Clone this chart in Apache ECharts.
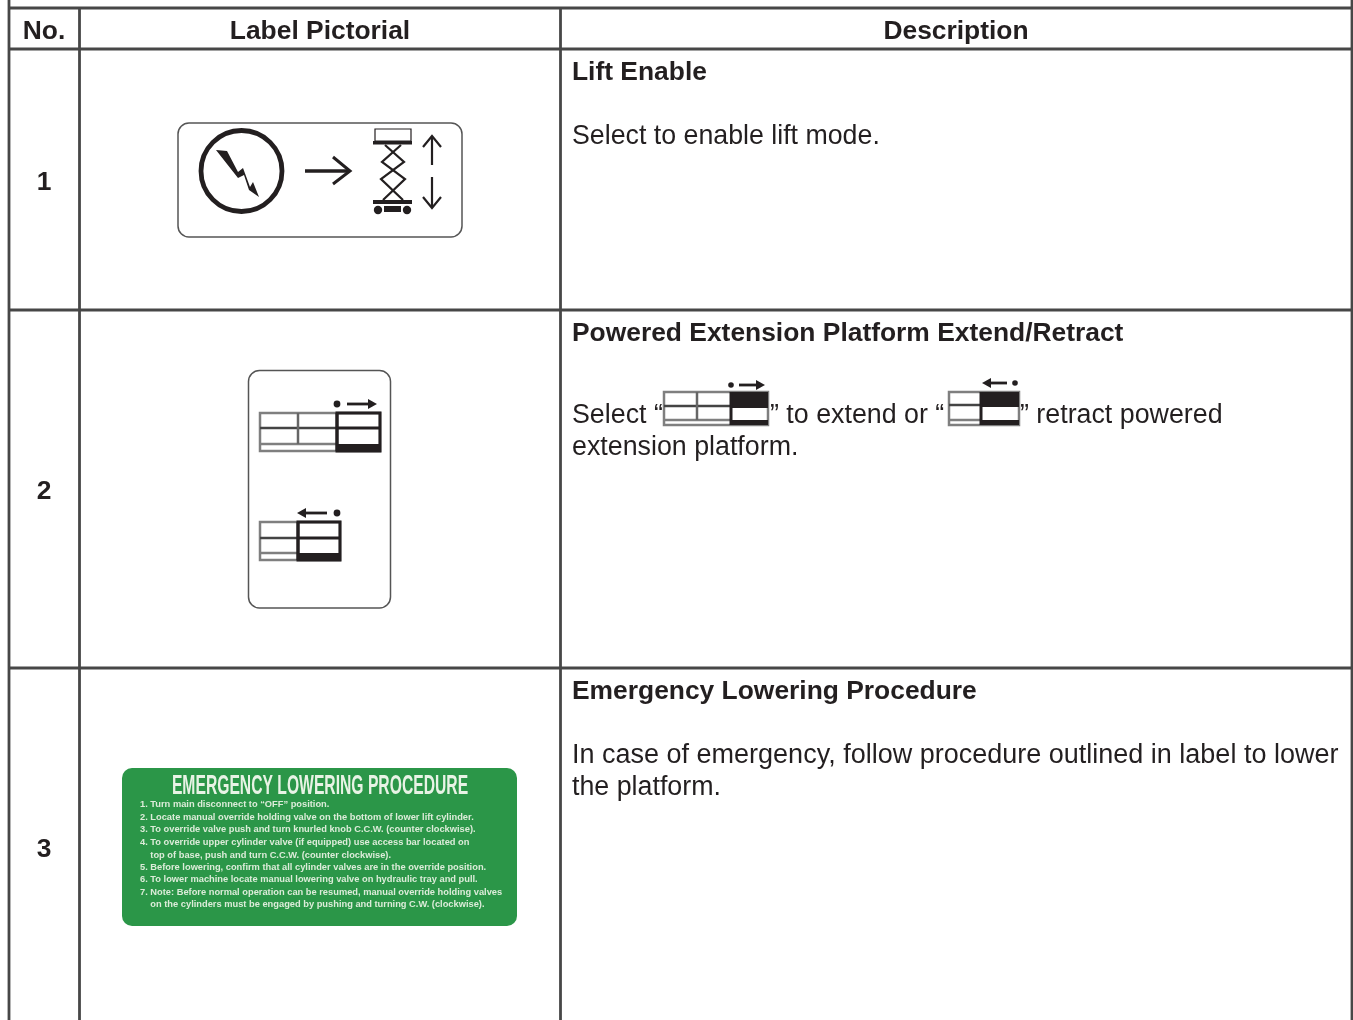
<!DOCTYPE html>
<html>
<head>
<meta charset="utf-8">
<style>
  html, body { margin: 0; padding: 0; background: #fff; }
  #chart { width: 1353px; height: 1020px; }
</style>
<script src="https://cdn.jsdelivr.net/npm/echarts@6/dist/echarts.min.js"></script>
</head>
<body>
<div id="chart"></div>
<script>
// table content
const tableHeaders = ['No.', 'Label Pictorial', 'Description'];
const itemNumbers = ['1', '2', '3'];
const itemTitles = ['Lift Enable', 'Powered Extension Platform Extend/Retract', 'Emergency Lowering Procedure'];
const liftText = ['Select to enable lift mode.'];
const extendText = ['Select “', '” to extend or “', '” retract powered', 'extension platform.'];
const loweringText = ['In case of emergency, follow procedure outlined in label to lower', 'the platform.'];
const greenTitle = 'EMERGENCY LOWERING PROCEDURE';
const greenSteps = [
  '1. Turn main disconnect to “OFF” position.',
  '2. Locate manual override holding valve on the bottom of lower lift cylinder.',
  '3. To override valve push and turn knurled knob C.C.W. (counter clockwise).',
  '4. To override upper cylinder valve (if equipped) use access bar located on',
  '    top of base, push and turn C.C.W. (counter clockwise).',
  '5. Before lowering, confirm that all cylinder valves are in the override position.',
  '6. To lower machine locate manual lowering valve on hydraulic tray and pull.',
  '7. Note: Before normal operation can be resumed, manual override holding valves',
  '    on the cylinders must be engaged by pushing and turning C.W. (clockwise).'
];

const INK = '#231f20';
const RULE = '#474747';
const GREEN = '#2b9648';
const FAMILY = '"Liberation Sans", Arial, sans-serif';

const els = [];

function line(x1, y1, x2, y2, w, color) {
  els.push({ type: 'line', silent: true, shape: { x1, y1, x2, y2 },
    style: { stroke: color || INK, lineWidth: w } });
}
function poly(points, w, color) {
  els.push({ type: 'polyline', silent: true, shape: { points },
    style: { stroke: color || INK, lineWidth: w, fill: null, lineJoin: 'miter' } });
}
function fillPoly(points, color) {
  els.push({ type: 'polygon', silent: true, shape: { points }, style: { fill: color || INK } });
}
function box(x, y, width, height, style, r) {
  els.push({ type: 'rect', silent: true, shape: { x, y, width, height, r: r || 0 }, style });
}
function dot(cx, cy, r, style) {
  els.push({ type: 'circle', silent: true, shape: { cx, cy, r }, style: style || { fill: INK } });
}
function label(x, y, text, size, bold, align, color, scaleX) {
  const el = { type: 'text', silent: true,
    style: { x: 0, y: 0, text, fill: color || INK, align: align || 'left', verticalAlign: 'middle',
      font: (bold ? 'bold ' : '') + size + 'px ' + FAMILY } };
  el.x = x;
  el.y = y;
  if (scaleX) el.scaleX = scaleX;
  els.push(el);
}

// grid
const ruleYs = [8, 49, 310, 668];
const ruleXs = [9, 79.5, 560.5, 1352];
ruleYs.forEach(y => line(8, y, 1353, y, 2.8, RULE));
ruleXs.forEach((x, i) => line(x, (i === 0 || i === 3) ? 0 : 8, x, 1020, 2.8, RULE));

// header row and number column
const BOLD = 26.4;
const headerCenters = [44, 320, 956];
tableHeaders.forEach((t, i) => label(headerCenters[i], 32, t, BOLD, true, 'center'));
const numberYs = [183, 492, 850];
itemNumbers.forEach((t, i) => label(44, numberYs[i], t, BOLD, true, 'center'));

// description column
label(572, 72.5, itemTitles[0], BOLD, true);
label(572, 136.5, liftText[0], 26.75);
label(572, 334, itemTitles[1], BOLD, true);
label(572, 415.5, extendText[0], 26.8);
label(770, 415.5, extendText[1], 26.8);
label(1020, 415.5, extendText[2], 26.8);
label(572, 447.5, extendText[3], 26.8);
label(572, 692, itemTitles[2], BOLD, true);
label(572, 755.5, loweringText[0], 27);
label(572, 787.5, loweringText[1], 26.8);

// label 1: lift enable
box(178, 123, 284, 114, { fill: '#fff', stroke: '#555', lineWidth: 1.5 }, 11);
dot(241.5, 171, 40.5, { fill: '#fff', stroke: INK, lineWidth: 4.8 });
fillPoly([[216, 150], [227, 151], [238, 172], [243, 168], [250, 187], [253, 182], [259, 197],
  [249, 190], [244, 175], [238, 178]]);
line(305, 171, 349, 171, 3.5);
poly([[333, 157], [350, 171], [333, 184]], 3);
box(375, 129, 36, 12, { fill: '#fff', stroke: INK, lineWidth: 1.2 });
box(373, 141, 39, 3.5, { fill: INK });
poly([[385, 145], [404, 162], [381, 179], [403, 200]], 2.2);
poly([[401, 145], [382, 162], [405, 179], [383, 200]], 2.2);
box(373, 200, 39, 4, { fill: INK });
dot(378, 210, 4.2);
dot(407, 210, 4.2);
box(384, 206, 17, 6, { fill: INK });
line(432, 137, 432, 165, 2.2);
poly([[423, 147], [432, 136], [441, 147]], 2.2);
line(432, 177, 432, 207, 2.2);
poly([[423, 197], [432, 208], [441, 197]], 2.2);

// platform pictogram: outer frame, cells, dark part on the extension side
function platform(x, right, split, darkFrom, row1, row2, top, bottom, solidTop) {
  const grey = '#7f7f7f';
  box(x, top, right - x, bottom - top, { fill: '#fff', stroke: grey, lineWidth: 2.5 });
  line(x, row1, darkFrom, row1, 2.5, '#444');
  line(x, row2, darkFrom, row2, 2.5, grey);
  if (split) line(split, top, split, row2, 2.5, '#666');
  if (solidTop) {
    box(darkFrom, top, right - darkFrom, row1 - top + 2, { fill: INK });
  } else {
    box(darkFrom, top, right - darkFrom, bottom - top, { fill: 'none', stroke: INK, lineWidth: 3 });
    line(darkFrom, row1, right, row1, 3);
  }
  box(darkFrom, row2, right - darkFrom, bottom - row2, { fill: INK });
  line(darkFrom, top, darkFrom, bottom, 3);
}
function arrowRight(x1, x2, y) {
  line(x1, y, x2 - 7, y, 2.8);
  fillPoly([[x2 - 9, y - 5], [x2, y], [x2 - 9, y + 5]]);
}
function arrowLeft(x1, x2, y) {
  line(x1 + 7, y, x2, y, 2.8);
  fillPoly([[x1 + 9, y - 5], [x1, y], [x1 + 9, y + 5]]);
}

// label 2: extend / retract
box(248.5, 370.5, 142, 237.5, { fill: '#fff', stroke: '#555', lineWidth: 1.5 }, 11);
platform(260, 380, 298, 337, 428, 444, 413, 451, false);
dot(337, 404, 3.4);
arrowRight(347, 377, 404);
platform(260, 340, 0, 298, 538, 553, 522, 560, false);
arrowLeft(297, 327, 513);
dot(337, 513, 3.4);

// inline pictograms in the description
platform(664, 768, 697, 731, 406, 420, 392, 425, true);
dot(731, 385, 2.8);
arrowRight(739, 765, 385);
platform(949, 1019, 0, 981, 405, 420, 392, 425, true);
arrowLeft(982, 1007, 383);
dot(1015, 383, 2.8);

// label 3: green plate
box(122, 768, 395, 158, { fill: GREEN }, 10);
label(320, 786, greenTitle, 28, true, 'center', '#e8f3e5', 0.56);
const stepYs = [804, 817, 829, 842, 855, 867, 879, 892, 904];
greenSteps.forEach((t, i) => label(140, stepYs[i], t, 9.3, true, 'left', '#dcecd9'));

const myChart = echarts.init(document.getElementById('chart'));
myChart.setOption({
  backgroundColor: '#fff',
  animation: false,
  graphic: { elements: els }
});
</script>
</body>
</html>
